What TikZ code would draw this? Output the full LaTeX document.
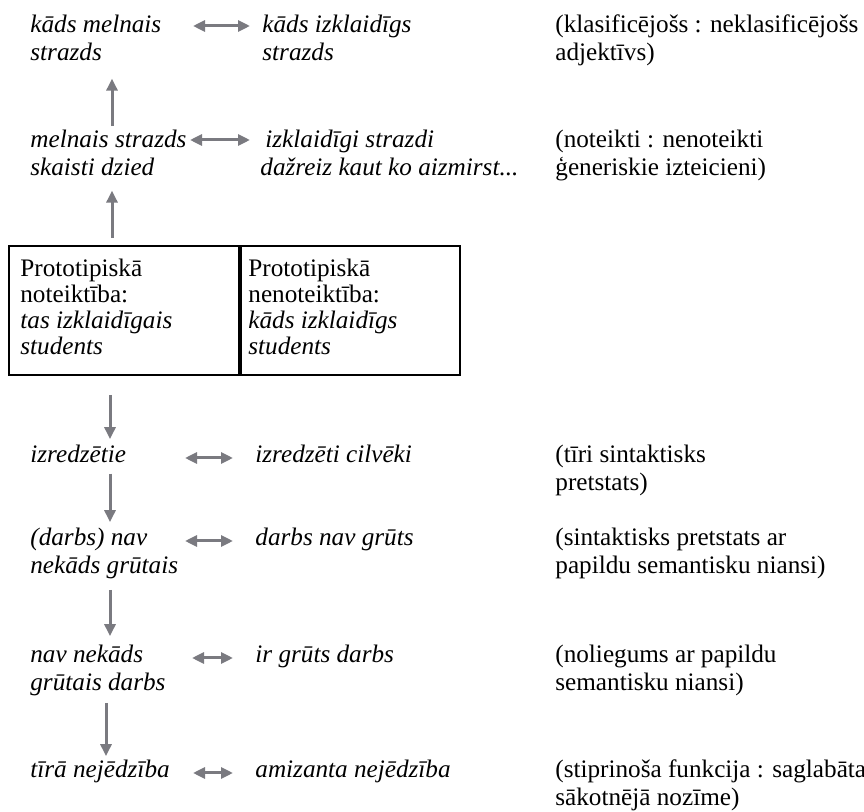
\documentclass[tikz,border=0pt]{standalone}
\usepackage{fontspec}
\setmainfont{Liberation Serif}
\usepackage{xcolor}
\usetikzlibrary{arrows.meta,positioning}
\definecolor{arrowgray}{RGB}{122,122,128}

\begin{document}
\begin{tikzpicture}[x=0.5pt, y=-0.5pt,
    item/.style={anchor=base west, inner sep=0pt, align=left,
                 font=\fontsize{12.6}{14}\selectfont\itshape},
    note/.style={item, font=\fontsize{12.6}{14}\selectfont},
    celltext/.style={item, font=\fontsize{12.6}{13}\selectfont},
    cell/.style={draw, line width=1pt, inner sep=0pt, anchor=north west,
                 minimum height=64.5pt},
    link/.style={draw=arrowgray, line width=1.5pt,
                 -{Triangle[width=5.5pt,length=6pt]}},
    twoway/.style={link, {Triangle[width=5.5pt,length=6pt]}-{Triangle[width=5.5pt,length=6pt]}}
  ]
  \useasboundingbox (0,0) rectangle (864,812);

  % columns for the vertical arrows
  \coordinate (upcol)   at (112,0);
  \coordinate (downcol) at (110,0);
  \coordinate (lowcol)  at (106,0);

  % (multi-line nodes sit on the baseline of their last line)
  % classifying adjective
  \node[item] (somebird)    at (30,61)  {kāds melnais\\strazds};
  \node[item] (anybird)     at (262,61) {kāds izklaidīgs\\strazds};
  \node[note] (classnote)   at (555,61) {(klasificējošs : neklasificējošs\\adjektīvs)};

  % generic statements
  \node[item] (blackbird)   at (30,176)  {melnais strazds\\skaisti dzied};
  \node[item] (absentbirds) at (260,176) {\hspace{2.5pt}izklaidīgi strazdi\\dažreiz kaut ko aizmirst...};
  \node[note] (defnote)     at (555,176) {(noteikti : nenoteikti\\ģeneriskie izteicieni)};

  % prototype box
  \node[cell, minimum width=115pt]  (defcell)   at (8,245) {};
  \node[cell, minimum width=109.5pt] (indefcell) at (defcell.north east) {};
  \node[celltext] (deftext)   at (20,355)  {Prototipiskā\\noteiktība:\\\textit{tas izklaidīgais}\\\textit{students}};
  \node[celltext] (indeftext) at (248,355) {Prototipiskā\\nenoteiktība:\\\textit{kāds izklaidīgs}\\\textit{students}};

  % lower rows
  \node[item] (elite)         at (30,463)  {izredzētie};
  \node[item] (elitepeople)   at (255,463) {izredzēti cilvēki};
  \node[note] (syntnote)      at (555,491) {(tīri sintaktisks\\pretstats)};

  \node[item] (notanyhard)    at (30,574)  {(darbs) nav\\nekāds grūtais};
  \node[item] (nothard)       at (255,546) {darbs nav grūts};
  \node[note] (nuancenote)    at (555,574) {(sintaktisks pretstats ar\\papildu semantisku niansi)};

  \node[item] (nohardwork)    at (30,691)  {nav nekāds\\grūtais darbs};
  \node[item] (hardwork)      at (255,663) {ir grūts darbs};
  \node[note] (negnote)       at (555,691) {(noliegums ar papildu\\semantisku niansi)};

  \node[item] (nonsense)      at (30,778)  {tīrā nejēdzība};
  \node[item] (funnynonsense) at (255,778) {amizanta nejēdzība};
  \node[note] (intnote)       at (555,806) {(stiprinoša funkcija : saglabāta\\sākotnējā nozīme)};

  % ends of the two-way arrows
  \coordinate (h1a) at (193,26);  \coordinate (h1b) at (250,26);
  \coordinate (h2a) at (190,140); \coordinate (h2b) at (250,140);
  \coordinate (h3a) at (185,458); \coordinate (h3b) at (233,458);
  \coordinate (h4a) at (185,541); \coordinate (h4b) at (233,541);
  \coordinate (h5a) at (192,658); \coordinate (h5b) at (233,658);
  \coordinate (h6a) at (193,773); \coordinate (h6b) at (233,773);

  \draw[twoway] (h1a) -- (h1b);
  \draw[twoway] (h2a) -- (h2b);
  \draw[twoway] (h3a) -- (h3b);
  \draw[twoway] (h4a) -- (h4b);
  \draw[twoway] (h5a) -- (h5b);
  \draw[twoway] (h6a) -- (h6b);

  % vertical arrows
  \draw[link, shorten <=2pt, shorten >=8.5pt] (blackbird.north -| upcol) -- (somebird.south -| upcol);
  \draw[link, shorten <=3.5pt, shorten >=7pt] (defcell.north -| upcol) -- (blackbird.south -| upcol);
  \draw[link, shorten <=9.5pt, shorten >=3pt] (defcell.south -| downcol) -- (elite.north -| downcol);
  \draw[link, shorten <=5pt, shorten >=3pt] (elite.south -| downcol) -- (notanyhard.north -| downcol);
  \draw[link, shorten <=5pt, shorten >=4.5pt] (notanyhard.south -| downcol) -- (nohardwork.north -| downcol);
  \draw[link, shorten <=3pt, shorten >=2pt] (nohardwork.south -| lowcol) -- (nonsense.north -| lowcol);
\end{tikzpicture}
\end{document}
